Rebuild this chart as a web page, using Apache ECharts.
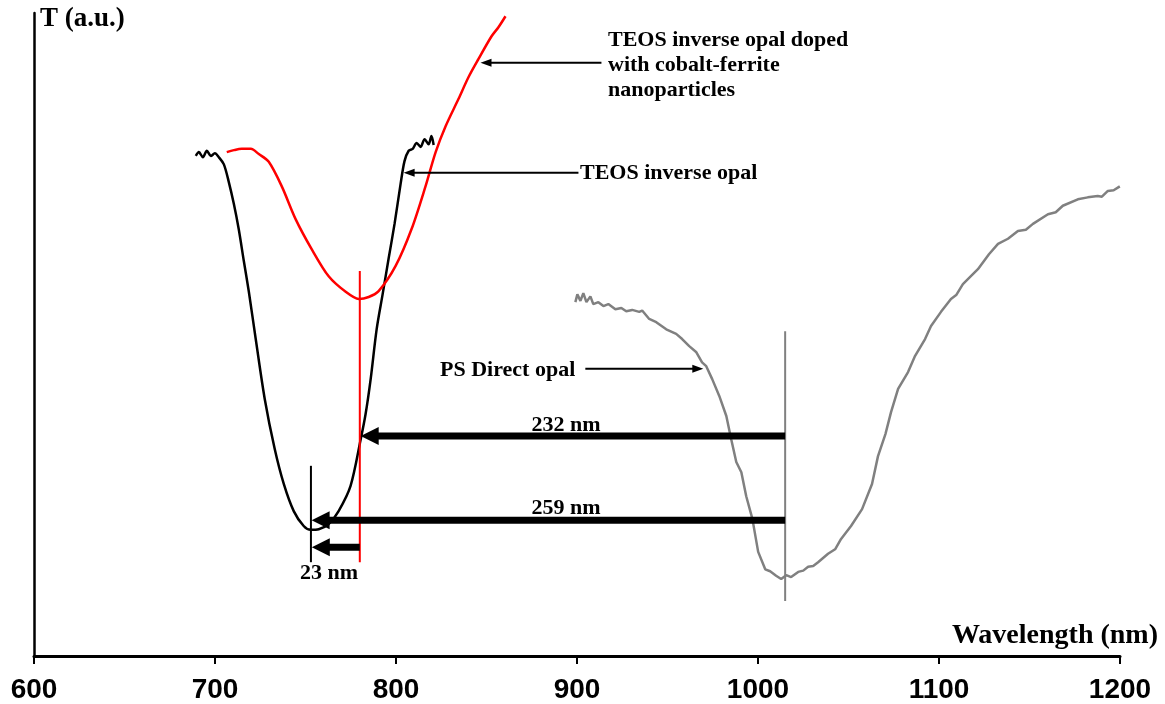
<!DOCTYPE html>
<html>
<head>
<meta charset="utf-8">
<title>Transmission spectra</title>
<script src="https://cdn.jsdelivr.net/npm/echarts/dist/echarts.min.js"></script>
<style>
    html, body { margin: 0; padding: 0; background: #fff; }
    #main { width: 1165px; height: 704px; }
</style>
</head>
<body>
<div id="main"></div>
<script>
// x ticks (nm)
const xTicks = [600, 700, 800, 900, 1000, 1100, 1200];

// TEOS inverse opal (black), [wavelength, T]
const teosOpal = [
    [689.4, 77.3], [691.1, 77.9], [693.3, 77.1], [695.5, 78.1], [697.7, 77.3],
    [699.9, 77.7], [702.1, 77.1], [704.9, 76.0], [707.6, 73.3], [710.4, 69.9],
    [713.1, 66.0], [715.9, 61.1], [718.7, 56.3], [722.5, 49.0], [727.5, 39.7],
    [733.0, 32.0], [738.0, 26.6], [743.5, 22.4], [749.0, 20.1], [752.9, 19.5],
    [757.3, 19.6], [762.8, 20.4], [768.3, 22.4], [774.9, 26.3], [780.5, 33.5],
    [783.2, 37.4], [786.0, 42.8], [789.3, 50.5], [792.6, 55.9], [795.9, 61.4],
    [799.2, 66.8], [802.5, 72.9], [804.7, 76.5], [807.0, 78.1], [809.2, 78.4],
    [811.4, 79.3], [813.6, 78.7], [815.8, 79.9], [818.0, 79.1], [819.6, 80.4],
    [820.8, 79.0]
];

// TEOS inverse opal doped with cobalt-ferrite (red)
const teosDoped = [
    [706.5, 77.9], [710.4, 78.2], [714.8, 78.4], [719.8, 78.4], [724.2, 77.6],
    [729.7, 76.4], [736.9, 72.6], [744.6, 67.5], [753.4, 62.9], [762.8, 58.7],
    [772.2, 56.3], [779.4, 55.2], [784.9, 55.5], [790.4, 56.4], [799.8, 60.3],
    [808.6, 66.0], [816.3, 72.6], [821.9, 77.9], [827.4, 81.9], [834.5, 86.1],
    [840.1, 89.5], [845.6, 92.3], [852.8, 95.8], [856.6, 97.2], [860.5, 98.9]
];

// PS direct opal (gray)
const psOpal = [
    [899.1, 54.7], [900.2, 55.9], [901.9, 54.9], [903.5, 56.1], [905.2, 54.7],
    [907.4, 55.6], [909.0, 54.4], [911.8, 54.7], [914.6, 54.1], [917.3, 54.4],
    [921.2, 53.6], [924.5, 53.8], [927.2, 53.3], [930.5, 53.5], [934.4, 53.2],
    [936.0, 53.4], [939.9, 52.1], [943.8, 51.6], [949.3, 50.5], [954.8, 49.8],
    [958.1, 49.0], [962.0, 47.9], [965.8, 47.0], [969.1, 45.4], [971.4, 44.8],
    [974.7, 42.8], [978.6, 40.2], [982.5, 37.1], [985.2, 33.5], [988.0, 30.0],
    [990.8, 28.4], [993.5, 24.7], [996.9, 21.2], [1000.1, 16.1], [1004.0, 13.4],
    [1006.7, 13.1], [1010.0, 12.4], [1012.8, 11.9], [1015.6, 12.5], [1018.3, 12.2],
    [1022.2, 13.0], [1025.0, 13.2], [1027.7, 13.8], [1030.5, 13.9], [1033.2, 14.5],
    [1038.7, 15.8], [1042.6, 16.5], [1045.9, 18.1], [1051.4, 20.1], [1057.5, 22.7],
    [1063.0, 26.6], [1066.3, 30.9], [1070.4, 34.3], [1073.5, 37.7], [1077.4, 41.3],
    [1082.9, 43.9], [1086.8, 46.4], [1092.3, 49.0], [1095.6, 51.0], [1101.1, 53.2],
    [1106.6, 55.2], [1109.5, 55.8], [1113.2, 57.5], [1121.5, 59.8], [1127.6, 62.1],
    [1132.6, 63.7], [1138.1, 64.5], [1143.6, 65.7], [1148.0, 65.9], [1151.9, 66.8],
    [1160.2, 68.3], [1164.5, 68.6], [1168.4, 69.6], [1176.7, 70.6], [1182.2, 70.9],
    [1187.7, 71.1], [1190.0, 71.0], [1193.3, 71.9], [1196.5, 72.0], [1199.9, 72.6]
];

// minimum markers: [wavelength, T top, T bottom]
const redMarker = [780, 59.5, 14.5];
const blackMarker = [753, 29.4, 14.5];
const grayMarker = [1015, 50.2, 8.5];

// shift arrows: [from, to, T]
const shiftArrows = [[1015, 780.5, 34.0], [1015, 753.4, 21.0], [780, 753.5, 16.8]];
const shiftLabels = ['232 nm', '259 nm', '23 nm'];

// pointer arrows to the curves: [from, to, T]
const pointerArrows = [[913.5, 846.7, 91.7], [900.8, 804.2, 74.7], [904.6, 969.8, 44.4]];

function markerData(m) {
    return [[m[0], m[1]], [m[0], m[2]]];
}

// arrow = line + triangle head
function arrowRenderer(lineWidth, headLen, headHalf) {
    return function (params, api) {
        const p1 = api.coord([api.value(0), api.value(2)]);
        const p2 = api.coord([api.value(1), api.value(2)]);
        const dir = p2[0] > p1[0] ? 1 : -1;
        return {
            type: 'group',
            children: [{
                type: 'line',
                shape: { x1: p1[0], y1: p1[1], x2: p2[0] - dir * headLen * 0.7, y2: p2[1] },
                style: { stroke: '#000', lineWidth: lineWidth }
            }, {
                type: 'polygon',
                shape: {
                    points: [
                        [p2[0], p2[1]],
                        [p2[0] - dir * headLen, p2[1] - headHalf],
                        [p2[0] - dir * headLen, p2[1] + headHalf]
                    ]
                },
                style: { fill: '#000' }
            }]
        };
    };
}

const serif = '"Liberation Serif", "Times New Roman", serif';

function textEl(text, x, y, align, size) {
    return {
        type: 'text',
        x: x,
        y: y,
        style: {
            text: text,
            fontFamily: serif,
            fontWeight: 'bold',
            fontSize: size || 22,
            lineHeight: 25,
            fill: '#000',
            align: align || 'left',
            verticalAlign: 'middle'
        }
    };
}

const chart = echarts.init(document.getElementById('main'));

chart.setOption({
    animation: false,
    backgroundColor: '#fff',
    grid: { left: 34, right: 45, top: 13, bottom: 48 },
    xAxis: {
        type: 'value',
        min: xTicks[0],
        max: xTicks[xTicks.length - 1],
        interval: 100,
        axisLine: { lineStyle: { color: '#000', width: 3 } },
        axisTick: { length: 8, lineStyle: { color: '#000', width: 2 } },
        axisLabel: {
            margin: 20,
            color: '#000',
            fontFamily: '"Liberation Sans", Arial, sans-serif',
            fontWeight: 'bold',
            fontSize: 28,
            formatter: function (v) { return String(v); }
        },
        splitLine: { show: false }
    },
    yAxis: {
        type: 'value',
        min: 0,
        max: 99.4,
        axisLine: { show: true, lineStyle: { color: '#000', width: 2.5 } },
        axisTick: { show: false },
        axisLabel: { show: false },
        splitLine: { show: false }
    },
    graphic: [
        textEl('T (a.u.)', 40, 19, 'left', 27),
        textEl('Wavelength (nm)', 1158, 636, 'right', 28),
        textEl('TEOS inverse opal doped\nwith cobalt-ferrite\nnanoparticles', 608, 65),
        textEl('TEOS inverse opal', 580, 173),
        textEl('PS Direct opal', 440, 370),
        textEl(shiftLabels[0], 566, 425, 'center'),
        textEl(shiftLabels[1], 566, 508, 'center'),
        textEl(shiftLabels[2], 300, 573)
    ],
    series: [{
        name: 'TEOS inverse opal',
        type: 'line',
        data: teosOpal,
        showSymbol: false,
        smooth: 0.3,
        lineStyle: { color: '#000', width: 2.5 }
    }, {
        name: 'TEOS inverse opal doped',
        type: 'line',
        data: teosDoped,
        showSymbol: false,
        smooth: 0.3,
        lineStyle: { color: '#ff0000', width: 2.5 }
    }, {
        name: 'PS Direct opal',
        type: 'line',
        data: psOpal,
        showSymbol: false,
        lineStyle: { color: '#808080', width: 2.5 }
    }, {
        type: 'line',
        data: markerData(redMarker),
        showSymbol: false,
        lineStyle: { color: '#ff0000', width: 2 }
    }, {
        type: 'line',
        data: markerData(blackMarker),
        showSymbol: false,
        lineStyle: { color: '#000', width: 2 }
    }, {
        type: 'line',
        data: markerData(grayMarker),
        showSymbol: false,
        lineStyle: { color: '#808080', width: 2 }
    }, {
        type: 'custom',
        data: shiftArrows,
        encode: { x: [0, 1], y: 2 },
        renderItem: arrowRenderer(7, 18, 9),
        z: 5
    }, {
        type: 'custom',
        data: pointerArrows,
        encode: { x: [0, 1], y: 2 },
        renderItem: arrowRenderer(2, 11, 4),
        z: 5
    }]
});
</script>
</body>
</html>
